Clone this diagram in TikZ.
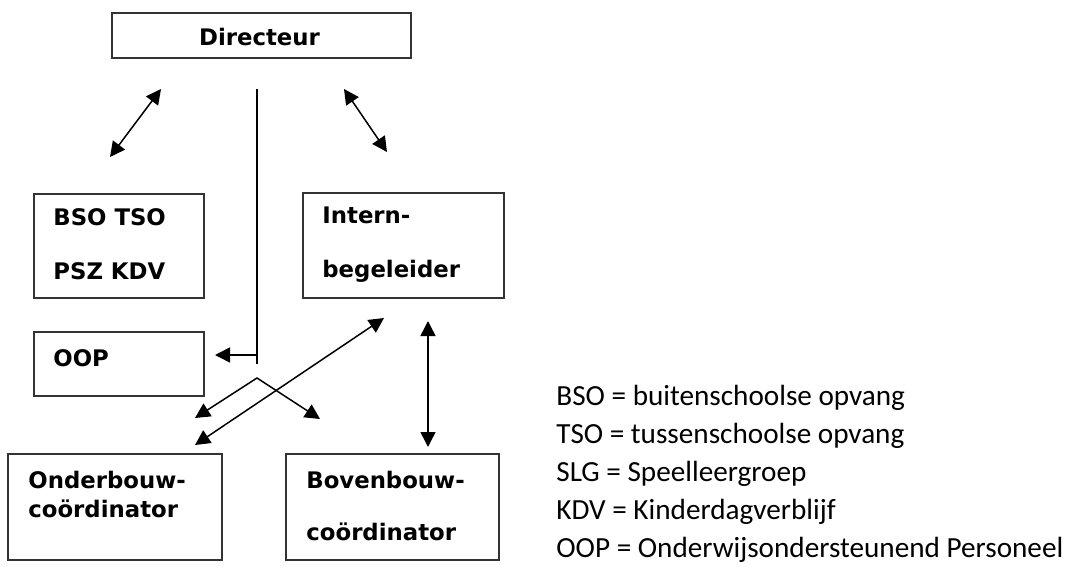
\documentclass[tikz,border=0pt]{standalone}
\usepackage{fontspec}
\setmainfont{Carlito}
\newfontfamily\boxfont{DejaVu Sans}
\usetikzlibrary{arrows.meta}
\tikzset{
  box/.style={draw=black!80, line width=0.8pt, inner sep=0pt},
  boxtext/.style={anchor=base west, inner sep=0pt, font=\boxfont\bfseries\fontsize{11.4}{13}\selectfont},
  legend/.style={anchor=base west, inner sep=0pt, font=\fontsize{14.6}{17}\selectfont},
  link/.style={line width=0.75pt, {Triangle[length=7.5pt,width=7.5pt]}-{Triangle[length=7.5pt,width=7.5pt]}},
  oneway/.style={line width=0.75pt, -{Triangle[length=7.5pt,width=7.5pt]}},
}
\begin{document}
\begin{tikzpicture}[x=0.5pt,y=-0.5pt]
        \useasboundingbox (0,0) rectangle (1066,567);
        % boxes
        \node[box, minimum width=149.5pt, minimum height=22.5pt] at (261.5, 35.5) (dir)   {};
        \node[box, minimum width=85pt,    minimum height=52pt]   at (119,   246)  (bso)   {};
        \node[box, minimum width=100.5pt, minimum height=52.5pt] at (403.5, 245.5)(ib)    {};
        \node[box, minimum width=85pt,    minimum height=32pt]   at (119,   364)  (oop)   {};
        \node[box, minimum width=107pt,   minimum height=53pt]   at (115,   507)  (onder) {};
        \node[box, minimum width=106.5pt, minimum height=53pt]   at (392.5, 507)  (boven) {};
        % box texts
        \node[boxtext, anchor=base] at (259.5, 46) (dirT) {Directeur};
        \node[boxtext] at ( 53, 225) (bsoT1)   {BSO TSO};
        \node[boxtext] at ( 53, 279) (bsoT2)   {PSZ KDV};
        \node[boxtext] at (322, 223) (ibT1)    {Intern-};
        \node[boxtext] at (322, 277) (ibT2)    {begeleider};
        \node[boxtext] at ( 53, 366) (oopT)    {OOP};
        \node[boxtext] at ( 28, 488) (onderT1) {Onderbouw-};
        \node[boxtext] at ( 28, 517) (onderT2) {coördinator};
        \node[boxtext] at (306, 488) (bovenT1) {Bovenbouw-};
        \node[boxtext] at (306, 540) (bovenT2) {coördinator};
        % connector ends
        \coordinate (dirL)   at (161,  89);
        \coordinate (bsoA)   at (110, 157);
        \coordinate (dirR)   at (344,  89);
        \coordinate (ibA)    at (387, 152);
        \coordinate (vTop)   at (257,  89);
        \coordinate (vJoin)  at (257, 355);
        \coordinate (vEnd)   at (257, 364);
        \coordinate (oopA)   at (215, 355);
        \coordinate (peak)   at (257, 378);
        \coordinate (onderA) at (195, 418);
        \coordinate (bovenA) at (320, 419);
        \coordinate (ibB)    at (384, 318);
        \coordinate (onderB) at (195, 445);
        \coordinate (ibC)    at (428, 321);
        \coordinate (bovenC) at (428, 447);
        % connectors
        \draw[link] (dirL) -- (bsoA);
        \draw[link] (dirR) -- (ibA);
        \draw[line width=0.75pt] (vTop) -- (vEnd);
        \draw[oneway] (vJoin) -- (oopA);
        \draw[link] (onderA) -- (peak) -- (bovenA);
        \draw[link] (ibB) -- (onderB);
        \draw[link] (ibC) -- (bovenC);
        % legend
        \node[legend] at (556, 405) (leg1) {BSO = buitenschoolse opvang};
        \node[legend] at (556, 443) (leg2) {TSO = tussenschoolse opvang};
        \node[legend] at (556, 481) (leg3) {SLG = Speelleergroep};
        \node[legend] at (556, 519) (leg4) {KDV = Kinderdagverblijf};
        \node[legend] at (556, 557) (leg5) {OOP = Onderwijsondersteunend Personeel};
      \end{tikzpicture}
\end{document}
